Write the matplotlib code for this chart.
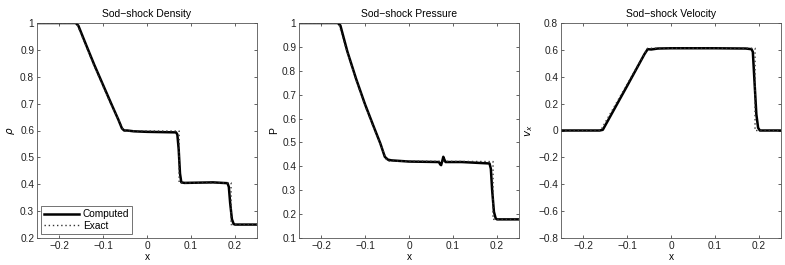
import matplotlib
matplotlib.use("Agg")
import matplotlib.pyplot as plt

# ---- data ----
rho_x = [-0.25, -0.162, -0.156, -0.14, -0.12, -0.10, -0.08, -0.065, -0.057, -0.052, -0.045, -0.03, 0.0,
         0.066, 0.069, 0.072, 0.075, 0.078, 0.085, 0.15, 0.183, 0.186, 0.189, 0.193, 0.197, 0.2, 0.25]
rho_y = [1.0, 1.0, 0.99, 0.925, 0.845, 0.77, 0.695, 0.64, 0.608, 0.600, 0.600, 0.597, 0.595,
         0.593, 0.585, 0.53, 0.44, 0.407, 0.405, 0.407, 0.404, 0.39, 0.33, 0.27, 0.252, 0.25, 0.25]
rho_ex_x = [-0.25, -0.16, -0.14, -0.12, -0.10, -0.08, -0.06, -0.053, 0.073, 0.073, 0.191, 0.191, 0.25]
rho_ex_y = [1.0, 1.0, 0.92, 0.84, 0.765, 0.69, 0.625, 0.598, 0.598, 0.405, 0.405, 0.25, 0.25]

p_x = [-0.25, -0.162, -0.156, -0.14, -0.12, -0.10, -0.08, -0.065, -0.055, -0.048, -0.04, 0.0,
       0.068, 0.071, 0.073, 0.076, 0.078, 0.080, 0.083, 0.12, 0.183, 0.186, 0.189, 0.193, 0.197, 0.2, 0.25]
p_y = [1.0, 1.0, 0.99, 0.88, 0.765, 0.66, 0.565, 0.495, 0.44, 0.428, 0.425, 0.42,
       0.418, 0.408, 0.405, 0.425, 0.44, 0.43, 0.418, 0.418, 0.412, 0.39, 0.30, 0.21, 0.182, 0.178, 0.178]
p_ex_x = [-0.25, -0.16, -0.14, -0.12, -0.10, -0.08, -0.06, -0.05, 0.191, 0.191, 0.25]
p_ex_y = [1.0, 1.0, 0.875, 0.76, 0.655, 0.56, 0.47, 0.422, 0.42, 0.178, 0.178]

v_x = [-0.25, -0.162, -0.155, -0.1, -0.06, -0.053, -0.045, -0.03, 0.0, 0.1, 0.17, 0.183,
       0.186, 0.19, 0.194, 0.198, 0.202, 0.25]
v_y = [0.0, 0.0, 0.005, 0.33, 0.57, 0.605, 0.603, 0.61, 0.612, 0.612, 0.61, 0.605,
       0.585, 0.35, 0.12, 0.02, 0.0, 0.0]
v_ex_x = [-0.25, -0.16, -0.053, 0.191, 0.191, 0.25]
v_ex_y = [0.0, 0.0, 0.612, 0.612, 0.0, 0.0]

titles = ["Sod\u2212shock Density", "Sod\u2212shock Pressure", "Sod\u2212shock Velocity"]
ylabels = [r"$\rho$", "P", r"$v_x$"]
ylims = [(0.2, 1.0), (0.1, 1.0), (-0.8, 0.8)]
yticks = [[0.2, 0.3, 0.4, 0.5, 0.6, 0.7, 0.8, 0.9, 1.0],
          [0.1, 0.2, 0.3, 0.4, 0.5, 0.6, 0.7, 0.8, 0.9, 1.0],
          [-0.8, -0.6, -0.4, -0.2, 0.0, 0.2, 0.4, 0.6, 0.8]]
xticks = [-0.2, -0.1, 0.0, 0.1, 0.2]

series = [(rho_x, rho_y, rho_ex_x, rho_ex_y),
          (p_x, p_y, p_ex_x, p_ex_y),
          (v_x, v_y, v_ex_x, v_ex_y)]

plt.rcParams['font.family'] = ['Liberation Sans', 'DejaVu Sans']
plt.rcParams['mathtext.fontset'] = 'dejavusans'

fig = plt.figure(figsize=(7.85, 2.65), dpi=100)
lefts = [37, 299, 561]
W, H = 785.0, 265.0
axw, axh = 220, 215
bottom = H - 238

def fmt(v):
    if abs(v) < 1e-9:
        return "0"
    if abs(v - round(v)) < 1e-9:
        return "%d" % round(v)
    s = ("%.1f" % v)
    return s.replace("-", "\u2212")

for i in range(3):
    ax = fig.add_axes([lefts[i] / W, bottom / H, axw / W, axh / H])
    cx, cy, ex, ey = series[i]
    ax.plot(cx, cy, color='black', lw=1.8, solid_joinstyle='round', label='Computed')
    ax.plot(ex, ey, color='#333333', lw=1.0, ls=(0, (1, 2)), label='Exact')
    ax.set_xlim(-0.25, 0.25)
    ax.set_ylim(*ylims[i])
    ax.set_xticks(xticks)
    ax.set_xticklabels([fmt(v) for v in xticks])
    ax.set_yticks(yticks[i])
    ax.set_yticklabels([fmt(v) for v in yticks[i]])
    ax.tick_params(direction='in', length=2.5, width=0.5, labelsize=7.3, top=True, right=True,
                   colors='#222222', pad=2)
    for s in ax.spines.values():
        s.set_linewidth(0.6)
        s.set_color('#555555')
    ax.set_title(titles[i], fontsize=7.5, pad=4)
    ax.set_xlabel("x", fontsize=7.3, labelpad=1)
    ax.set_ylabel(ylabels[i], fontsize=7.5, labelpad=2)
    if i == 0:
        leg = ax.legend(loc='lower left', fontsize=7.3, frameon=True, fancybox=False,
                        borderpad=0.3, handlelength=3.4, handletextpad=0.4, labelspacing=0.15,
                        borderaxespad=0.4)
        leg.get_frame().set_edgecolor('#333333')
        leg.get_frame().set_linewidth(0.6)

fig.savefig("out.png", dpi=100)
